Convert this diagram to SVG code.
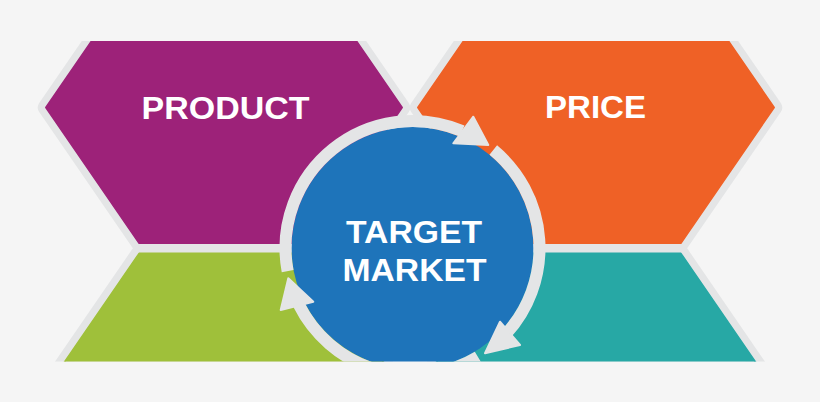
<svg xmlns="http://www.w3.org/2000/svg" width="820" height="402" viewBox="0 0 820 402">
  <defs>
    <clipPath id="crop"><rect x="0" y="41" width="820" height="320.5"/></clipPath>
    <style>
      .border { fill: #e4e5e6; stroke: #e4e5e6; stroke-width: 16; stroke-linejoin: round; }
      .label { font-family: "Liberation Sans", Arial, sans-serif; font-weight: 700; font-size: 31px; fill: #ffffff; text-anchor: middle; }
      .ring { fill: none; stroke: #e4e5e6; stroke-width: 12; stroke-linecap: butt; }
      .head { fill: #e4e5e6; stroke: #e4e5e6; stroke-width: 2; stroke-linejoin: round; }
    </style>
  </defs>
  <rect width="820" height="402" fill="#f5f5f5"/>
  <g clip-path="url(#crop)">
    <g id="borders">
      <path class="border" d="M45.8,107.5 L139.1,-28.3 L308.9,-28.3 L402.2,107.5 L308.9,243.3 L139.1,243.3 Z"/>
      <path class="border" d="M417.8,107.5 L511.1,-28.3 L680.9,-28.3 L774.2,107.5 L680.9,243.3 L511.1,243.3 Z"/>
      <path class="border" d="M45.8,389.1 L139.1,253.3 L308.9,253.3 L402.2,389.1 L308.9,524.9 L139.1,524.9 Z"/>
      <path class="border" d="M417.8,389.1 L511.1,253.3 L680.9,253.3 L774.2,389.1 L680.9,524.9 L511.1,524.9 Z"/>
    </g>
    <g id="node-product">
      <path fill="#9d2279" stroke="#9d2279" stroke-width="1.5" stroke-linejoin="round" d="M45.8,107.5 L139.1,-28.3 L308.9,-28.3 L402.2,107.5 L308.9,243.3 L139.1,243.3 Z"/>
      <text class="label" x="225.5" y="119.2" textLength="168" lengthAdjust="spacingAndGlyphs">PRODUCT</text>
    </g>
    <g id="node-price">
      <path fill="#ef6126" stroke="#ef6126" stroke-width="1.5" stroke-linejoin="round" d="M417.8,107.5 L511.1,-28.3 L680.9,-28.3 L774.2,107.5 L680.9,243.3 L511.1,243.3 Z"/>
      <text class="label" x="595.5" y="117.6" textLength="101" lengthAdjust="spacingAndGlyphs">PRICE</text>
    </g>
    <g id="node-place">
      <path fill="#9fc03a" stroke="#9fc03a" stroke-width="1.5" stroke-linejoin="round" d="M45.8,389.1 L139.1,253.3 L308.9,253.3 L402.2,389.1 L308.9,524.9 L139.1,524.9 Z"/>
    </g>
    <g id="node-promotion">
      <path fill="#27a8a5" stroke="#27a8a5" stroke-width="1.5" stroke-linejoin="round" d="M417.8,389.1 L511.1,253.3 L680.9,253.3 L774.2,389.1 L680.9,524.9 L511.1,524.9 Z"/>
    </g>
    <g id="node-target">
      <circle cx="412.5" cy="248" r="121" fill="#1e74ba"/>
      <text class="label" x="414" y="243.3" textLength="136" lengthAdjust="spacingAndGlyphs">TARGET</text>
      <text class="label" x="414.5" y="281" textLength="144" lengthAdjust="spacingAndGlyphs">MARKET</text>
    </g>
    <g id="connectors">
      <path class="ring" d="M287.63,271.14 A127,127 0 0 1 462.12,131.10"/>
      <path class="ring" d="M493.28,150.0 A127,127 0 0 1 506.13,333.80"/>
      <path class="ring" d="M477.91,356.86 A127,127 0 0 1 298.84,304.67"/>
      <polygon class="head" points="488.3,145 473.3,116.7 453.3,143.3"/>
      <polygon class="head" points="485,353.3 500,321.7 520,345"/>
      <polygon class="head" points="288.3,278.3 280.7,310 313.3,301.7"/>
    </g>
  </g>
</svg>
